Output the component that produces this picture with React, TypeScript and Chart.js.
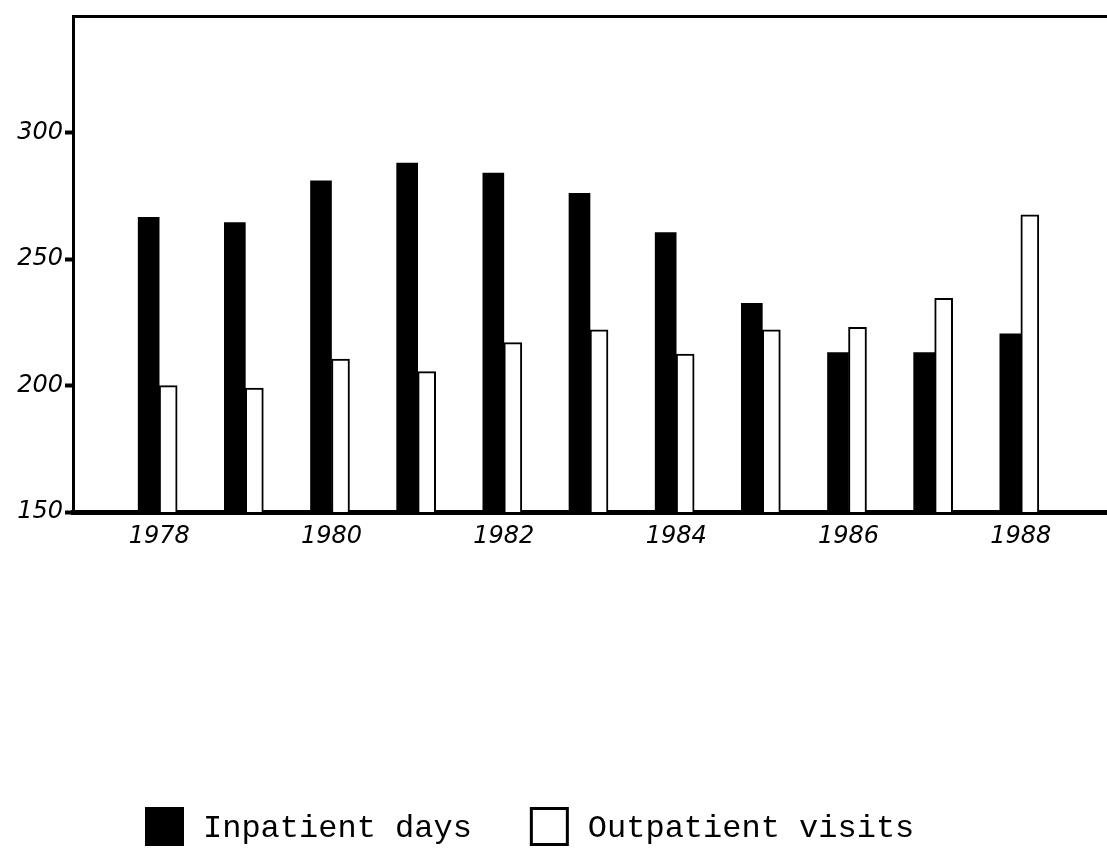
import React, { useEffect, useRef } from 'react';
import { Chart, registerables } from 'chart.js';

Chart.register(...registerables);

// ---- data ----
const years = [1978, 1979, 1980, 1981, 1982, 1983, 1984, 1985, 1986, 1987, 1988];
const inpatientDays = [266.5, 264.5, 281, 288, 284, 276, 260.5, 232.5, 213, 213, 220.5];
const outpatientVisits = [200, 199, 210.5, 205.5, 217, 222, 212.5, 222, 223, 234.5, 267.5];
const xTickYears = [1978, 1980, 1982, 1984, 1986, 1988];
const yTickValues = [150, 200, 250, 300];
const seriesLabels = ['Inpatient days', 'Outpatient visits'];

const handFont = '"DejaVu Sans", sans-serif';

const handLegend = {
  id: 'handLegend',
  afterDraw(chart: any, _args: any, opts: any) {
    const ctx = chart.ctx as CanvasRenderingContext2D;
    ctx.save();
    ctx.font = opts.font;
    let x = opts.left;
    chart.data.datasets.forEach((ds: any) => {
      const size = opts.boxSize;
      const y = opts.top;
      ctx.fillStyle = ds.backgroundColor;
      ctx.fillRect(x, y, size, size);
      if (ds.borderWidth) {
        ctx.lineWidth = opts.boxBorder;
        ctx.strokeStyle = ds.borderColor;
        const h = opts.boxBorder / 2;
        ctx.strokeRect(x + h, y + h, size - opts.boxBorder, size - opts.boxBorder);
      }
      x += size + opts.textGap;
      ctx.fillStyle = '#000';
      ctx.textBaseline = 'alphabetic';
      ctx.textAlign = 'left';
      ctx.fillText(ds.label, x, opts.baseline);
      x += ctx.measureText(ds.label).width + opts.itemGap;
    });
    ctx.restore();
  },
};

export default function App() {
  const canvasRef = useRef<HTMLCanvasElement | null>(null);

  useEffect(() => {
    if (!canvasRef.current) return;
    const chart = new Chart(canvasRef.current, {
      type: 'bar',
      data: {
        datasets: [
          {
            label: seriesLabels[0],
            data: years.map((y, i) => ({ x: y, y: inpatientDays[i] })),
            backgroundColor: '#000000',
            borderWidth: 0,
            barThickness: 21,
          },
          {
            label: seriesLabels[1],
            data: years.map((y, i) => ({ x: y, y: outpatientVisits[i] })),
            backgroundColor: '#ffffff',
            borderColor: '#000000',
            borderWidth: 2,
            barThickness: 18,
          },
        ],
      },
      plugins: [handLegend],
      options: {
        responsive: false,
        animation: false,
        layout: { padding: { top: 15, left: 0, right: 0, bottom: 0 } },
        plugins: {
          legend: { display: false },
          tooltip: { enabled: false },
          handLegend: {
            left: 145,
            top: 807,
            boxSize: 39,
            boxBorder: 3,
            textGap: 19,
            itemGap: 58,
            baseline: 837,
            font: '32px "Liberation Mono", monospace',
          },
        } as any,
        scales: {
          x: {
            type: 'linear',
            position: 'bottom',
            min: 1977,
            max: 1989,
            offset: false,
            z: 1,
            afterFit: (s: any) => { s.height = 336; },
            afterBuildTicks: (s: any) => { s.ticks = xTickYears.map((v) => ({ value: v })); },
            grid: { display: false, drawTicks: false },
            border: { display: true, color: '#000', width: 5 },
            ticks: {
              color: '#000',
              padding: 10,
              font: { family: handFont, size: 24, style: 'italic' },
              callback: (v: any) => String(v),
              maxRotation: 0,
              autoSkip: false,
            },
          },
          xTop: {
            type: 'linear',
            position: 'top',
            min: 1977,
            max: 1989,
            display: true,
            afterFit: (s: any) => { s.height = 0; },
            grid: { display: false, drawTicks: false },
            border: { display: true, color: '#000', width: 3 },
            ticks: { display: false },
          },
          y: {
            type: 'linear',
            min: 150,
            max: 346,
            z: 1,
            afterFit: (s: any) => { s.width = 73; },
            afterBuildTicks: (s: any) => { s.ticks = yTickValues.map((v) => ({ value: v })); },
            grid: { display: true, drawOnChartArea: false, drawTicks: true, tickLength: 8, tickWidth: 4, tickColor: '#000' },
            border: { display: true, color: '#000', width: 3 },
            ticks: {
              color: '#000',
              padding: 2,
              includeBounds: false,
              font: { family: handFont, size: 24, style: 'italic' },
              callback: (v: any) => String(v),
            },
          },
        },
      } as any,
    });
    return () => chart.destroy();
  }, []);

  return (
    <div style={{ position: 'fixed', left: 0, top: 0, width: 1107, height: 848, background: '#fff' }}>
      <canvas ref={canvasRef} width={1107} height={848} style={{ display: 'block' }} />
    </div>
  );
}
